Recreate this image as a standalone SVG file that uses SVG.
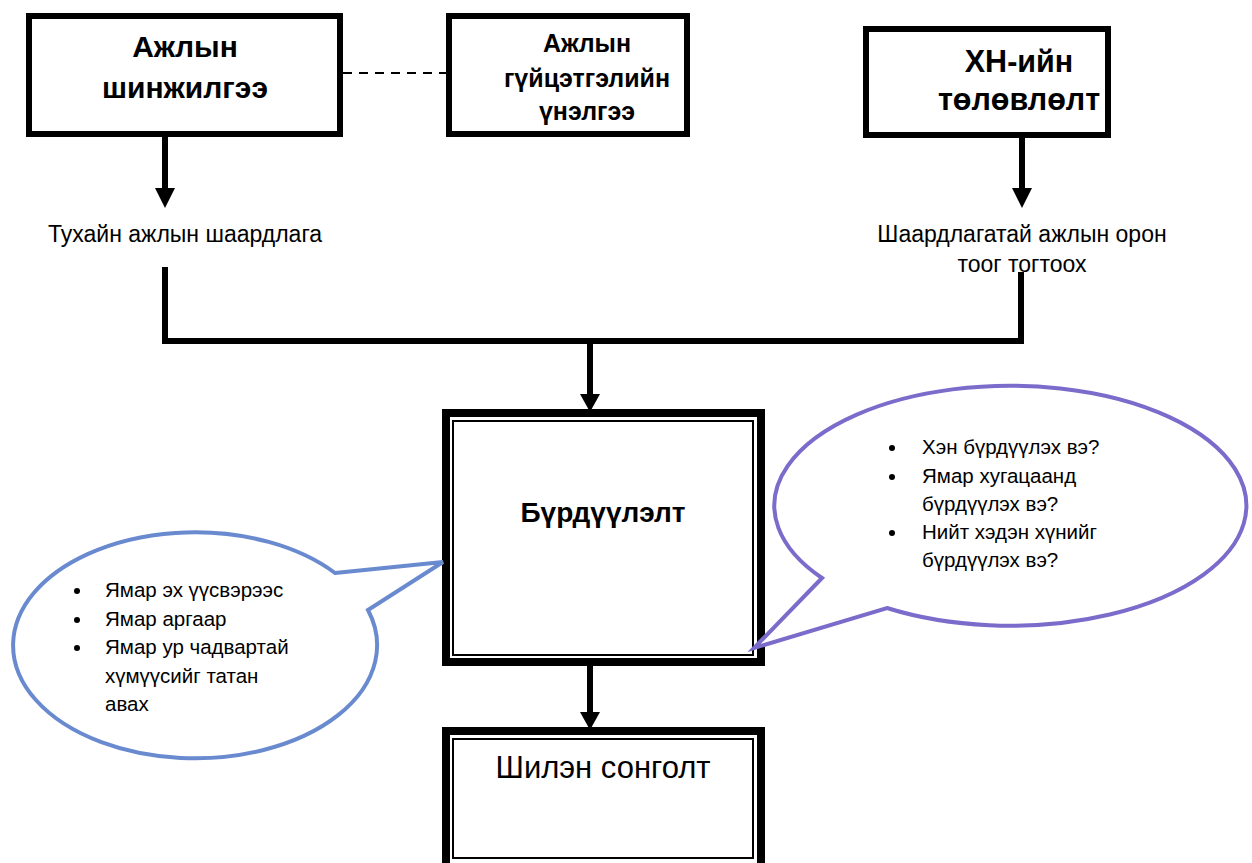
<svg xmlns="http://www.w3.org/2000/svg" width="1252" height="863" viewBox="0 0 1252 863">
<style>
.box{fill:#fff;stroke:#000;stroke-width:6}
.thick{fill:#fff;stroke:#000;stroke-width:8}
.thin{fill:none;stroke:#000;stroke-width:2}
.hb{font-family:"Liberation Sans",Arial,sans-serif;font-weight:bold;fill:#000;text-anchor:middle}
.t{font-family:"Liberation Sans",Arial,sans-serif;fill:#000}
.c{text-anchor:middle}
.ln{stroke:#000;stroke-width:6;fill:none}
.ah{fill:#000}
</style>
<g id="connectors">
<line x1="343" y1="73" x2="446" y2="73" stroke="#000" stroke-width="2" stroke-dasharray="9 7"/>
<line class="ln" x1="165" y1="137" x2="165" y2="190"/>
<polygon class="ah" points="155,188 175,188 165,208"/>
<line class="ln" x1="1022" y1="138" x2="1022" y2="190"/>
<polygon class="ah" points="1012,188 1032,188 1022,208"/>
<polyline class="ln" points="165,267 165,341 1021,341 1021,272"/>
<line class="ln" x1="590" y1="341" x2="590" y2="396"/>
<polygon class="ah" points="580,394 600,394 590,412"/>
<line class="ln" x1="590" y1="666" x2="590" y2="714"/>
<polygon class="ah" points="580,712 600,712 590,730"/>
</g>
<g id="node-ajlyn-shinjilgee">
<rect class="box" x="29" y="16" width="311" height="118"/>
<text class="hb" x="185" y="57" font-size="30">Ажлын</text>
<text class="hb" x="185" y="98" font-size="30">шинжилгээ</text>
</g>
<g id="node-guitsetgel">
<rect class="box" x="449" y="16" width="238" height="118"/>
<text class="hb" x="587" y="52" font-size="25">Ажлын</text>
<text class="hb" x="587" y="87" font-size="25">гүйцэтгэлийн</text>
<text class="hb" x="587" y="120" font-size="25">үнэлгээ</text>
</g>
<g id="node-hn-tolovlolt">
<rect class="box" x="866" y="29" width="242" height="106"/>
<text class="hb" x="1019" y="72" font-size="30.5">ХН-ийн</text>
<text class="hb" x="1019" y="110" font-size="30.5">төлөвлөлт</text>
</g>
<g id="label-left">
<text class="t" x="48" y="242" font-size="23">Тухайн ажлын шаардлага</text>
</g>
<g id="label-right">
<text class="t c" x="1022" y="242" font-size="23">Шаардлагатай ажлын орон</text>
<text class="t c" x="1022" y="272" font-size="23">тоог тогтоох</text>
</g>
<g id="node-burduulelt">
<rect class="thick" x="446" y="413" width="315" height="249"/>
<rect class="thin" x="453" y="421" width="300" height="234"/>
<text class="hb" x="603" y="522" font-size="28">Бүрдүүлэлт</text>
</g>
<g id="node-shilen-songolt">
<rect class="thick" x="446" y="731" width="315" height="200"/>
<rect class="thin" x="453" y="739" width="300" height="119"/>
<text class="t c" x="603" y="778" font-size="31">Шилэн сонголт</text>
</g>
<g id="callout-left">
<path d="M335,573 L443,562 L368,610 A182 113 0 1 1 335,573 Z" fill="#fff" stroke="#6a8ad0" stroke-width="4" stroke-linejoin="miter"/>
<g class="t" font-size="20.5">
<circle cx="77" cy="591" r="3"/><text x="105" y="597">Ямар эх үүсвэрээс</text>
<circle cx="77" cy="620" r="3"/><text x="105" y="626">Ямар аргаар</text>
<circle cx="77" cy="648" r="3"/><text x="105" y="654">Ямар ур чадвартай</text>
<text x="105" y="683">хүмүүсийг татан</text>
<text x="105" y="711">авах</text>
</g>
</g>
<g id="callout-right">
<path d="M822,578 L754,648 L887,608 A236 120 0 1 0 822,578 Z" fill="#fff" stroke="#7b6bcb" stroke-width="4" stroke-linejoin="miter"/>
<g class="t" font-size="20.5">
<circle cx="892" cy="448" r="3"/><text x="922" y="454">Хэн бүрдүүлэх вэ?</text>
<circle cx="892" cy="477" r="3"/><text x="922" y="483">Ямар хугацаанд</text>
<text x="922" y="511">бүрдүүлэх вэ?</text>
<circle cx="892" cy="533" r="3"/><text x="922" y="539">Нийт хэдэн хүнийг</text>
<text x="922" y="567">бүрдүүлэх вэ?</text>
</g>
</g>
</svg>
